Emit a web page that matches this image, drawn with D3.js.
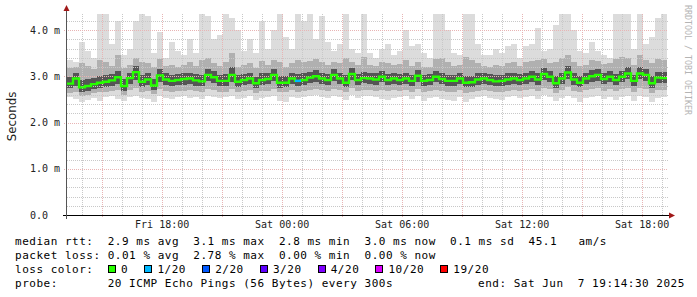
<!DOCTYPE html>
<html>
<head>
<meta charset="utf-8">
<script src="https://cdn.jsdelivr.net/npm/d3@7/dist/d3.min.js"></script>
<style>
  html, body { margin: 0; padding: 0; background: #fff; }
  svg { display: block; }
  text { font-family: "DejaVu Sans Mono", monospace; }
</style>
</head>
<body>
<div id="chart"></div>
<script>
// window of the graph
const startTime = new Date(2025, 5, 6, 13, 14, 30);
const endTime = new Date(2025, 5, 7, 19, 14, 30);
const stepMinutes = 18;

// median rtt (ms), one value per step
const median = [2.84,2.95,2.76,2.79,2.83,2.86,2.88,2.91,2.98,2.79,
  2.96,3.09,2.88,2.93,2.80,3.02,2.93,2.90,2.92,2.94,
  2.95,2.91,2.89,3.03,2.98,2.90,2.90,3.03,2.88,2.92,
  2.95,2.85,2.92,2.94,3.03,2.86,2.86,2.95,2.90,2.92,
  2.97,3.00,2.95,2.92,3.03,2.95,2.86,3.05,2.92,2.96,
  2.95,2.93,2.99,2.92,2.95,2.92,2.95,2.90,3.01,2.90,
  2.92,2.99,2.94,2.90,2.90,2.95,2.86,2.87,2.93,2.95,
  2.92,2.89,2.90,2.93,2.95,2.92,2.95,2.99,2.93,3.05,
  2.99,2.85,2.95,3.08,2.93,2.86,2.95,3.00,3.03,2.94,
  2.99,2.92,2.99,3.06,2.90,3.06,3.03,2.85,2.97,2.96];

// lost pings out of 20, per step
const lost = [0,0,0,0,0,0,0,0,0,0, 0,0,0,0,0,0,0,0,0,0,
  0,0,0,0,0,0,0,0,0,0, 0,0,0,0,0,0,0,0,1,0,
  0,0,0,0,0,0,0,0,0,0, 0,0,0,0,0,0,0,0,0,0,
  0,0,0,0,0,0,0,0,0,0, 0,0,0,0,0,0,0,0,0,0,
  0,0,0,0,0,0,0,0,0,0, 0,0,0,0,0,0,0,0,0,0];

// smoke: slowest / fastest ping
const smokeMax = [3.35,3.30,3.75,3.55,3.40,4.35,4.35,3.70,4.20,3.45,
  3.60,4.20,4.35,4.30,3.50,3.95,3.40,3.75,3.55,3.45,
  3.80,3.50,4.35,4.30,3.80,3.90,4.35,4.25,4.00,3.55,
  3.80,3.50,4.20,3.60,4.00,4.35,3.85,3.60,4.35,4.20,
  4.35,3.80,4.30,3.75,3.55,3.70,4.35,3.60,3.50,4.35,
  3.50,3.40,3.60,3.70,3.45,3.55,4.00,3.65,3.70,3.50,
  3.40,4.35,4.35,4.00,3.50,3.45,4.35,4.35,3.70,3.45,
  3.45,3.60,3.50,3.65,3.70,3.40,3.65,3.70,4.05,3.55,
  3.60,4.10,4.35,4.35,4.00,3.55,3.50,3.75,3.55,3.45,
  3.40,4.35,4.35,4.35,3.60,4.35,3.70,3.85,4.25,4.35];
const smokeMin = [2.55,2.50,2.45,2.48,2.52,2.47,2.55,2.58,2.50,2.46,
  2.55,2.58,2.52,2.50,2.45,2.57,2.53,2.50,2.55,2.58,
  2.52,2.55,2.50,2.57,2.55,2.52,2.56,2.58,2.50,2.54,
  2.57,2.48,2.53,2.55,2.58,2.47,2.45,2.56,2.52,2.55,
  2.58,2.60,2.55,2.53,2.58,2.56,2.48,2.60,2.52,2.57,
  2.58,2.55,2.50,2.48,2.52,2.55,2.58,2.50,2.57,2.46,
  2.52,2.55,2.50,2.48,2.47,2.55,2.45,2.50,2.55,2.57,
  2.53,2.50,2.48,2.55,2.57,2.52,2.55,2.58,2.50,2.60,
  2.55,2.47,2.52,2.58,2.53,2.45,2.52,2.55,2.57,2.50,
  2.55,2.48,2.55,2.58,2.47,2.57,2.55,2.45,2.52,2.55];

// smoke: 2nd and 19th ping band
const highMid = [3.18,3.20,3.28,3.22,3.15,3.35,3.30,3.22,3.45,3.18,
  3.25,3.40,3.30,3.28,3.20,3.38,3.22,3.25,3.20,3.24,
  3.30,3.22,3.35,3.40,3.28,3.22,3.30,3.50,3.20,3.25,
  3.28,3.18,3.32,3.25,3.35,3.30,3.20,3.28,3.35,3.30,
  3.32,3.38,3.30,3.25,3.30,3.28,3.40,3.30,3.25,3.42,
  3.25,3.22,3.30,3.28,3.24,3.26,3.35,3.22,3.30,3.20,
  3.20,3.38,3.40,3.30,3.22,3.25,3.42,3.35,3.28,3.22,
  3.20,3.25,3.22,3.28,3.30,3.22,3.30,3.32,3.35,3.38,
  3.28,3.30,3.40,3.45,3.30,3.22,3.25,3.35,3.32,3.26,
  3.28,3.38,3.42,3.40,3.25,3.45,3.35,3.28,3.38,3.36];
const lowMid = [2.64,2.66,2.58,2.60,2.63,2.65,2.66,2.68,2.70,2.60,
  2.70,2.74,2.66,2.68,2.62,2.72,2.68,2.67,2.68,2.69,
  2.70,2.68,2.66,2.72,2.70,2.67,2.67,2.72,2.66,2.68,
  2.70,2.64,2.68,2.69,2.72,2.65,2.65,2.70,2.67,2.68,
  2.70,2.72,2.70,2.68,2.72,2.70,2.65,2.74,2.68,2.70,
  2.70,2.68,2.71,2.68,2.70,2.68,2.70,2.67,2.72,2.67,
  2.68,2.71,2.69,2.67,2.66,2.70,2.64,2.65,2.68,2.70,
  2.68,2.66,2.67,2.68,2.70,2.68,2.70,2.72,2.68,2.74,
  2.72,2.64,2.70,2.76,2.68,2.65,2.70,2.72,2.74,2.69,
  2.72,2.68,2.72,2.75,2.67,2.75,2.72,2.64,2.70,2.70];

// smoke: inner band round the median
const highCore = [2.98,3.08,2.92,2.93,2.96,3.00,3.02,3.04,3.12,2.95,
  3.08,3.22,3.02,3.06,2.95,3.15,3.06,3.03,3.05,3.07,
  3.08,3.04,3.03,3.16,3.12,3.03,3.04,3.20,3.02,3.05,
  3.08,2.99,3.06,3.07,3.16,3.00,3.00,3.08,3.05,3.06,
  3.10,3.14,3.08,3.05,3.16,3.08,3.02,3.18,3.05,3.10,
  3.08,3.06,3.12,3.05,3.08,3.05,3.08,3.03,3.14,3.03,
  3.05,3.12,3.07,3.03,3.03,3.08,3.00,3.00,3.06,3.08,
  3.05,3.02,3.03,3.06,3.08,3.05,3.08,3.12,3.06,3.18,
  3.12,3.00,3.08,3.22,3.06,3.00,3.08,3.14,3.16,3.07,
  3.12,3.05,3.12,3.20,3.03,3.20,3.16,3.00,3.10,3.09];
const lowCore = [2.74,2.80,2.66,2.68,2.72,2.75,2.77,2.80,2.84,2.68,
  2.84,2.92,2.77,2.81,2.70,2.88,2.82,2.79,2.81,2.82,
  2.83,2.80,2.78,2.90,2.86,2.79,2.79,2.88,2.77,2.81,
  2.84,2.75,2.81,2.83,2.90,2.75,2.76,2.84,2.80,2.81,
  2.86,2.88,2.84,2.81,2.90,2.84,2.76,2.92,2.81,2.85,
  2.84,2.82,2.87,2.81,2.84,2.81,2.84,2.79,2.88,2.79,
  2.81,2.87,2.83,2.79,2.79,2.84,2.76,2.77,2.82,2.84,
  2.81,2.78,2.79,2.82,2.84,2.81,2.84,2.87,2.82,2.92,
  2.87,2.75,2.84,2.95,2.82,2.76,2.84,2.88,2.90,2.83,
  2.87,2.81,2.87,2.93,2.79,2.93,2.90,2.75,2.85,2.85];

// y axis
const yTicks = [0, 1, 2, 3, 4];
const yTickLabels = ['0.0', '1.0 m', '2.0 m', '3.0 m', '4.0 m'];

// legend
const lossLabels = ['0', '1/20', '2/20', '3/20', '4/20', '10/20', '19/20'];
const lossSteps = [0, 1, 2, 3, 4, 10, 19];
const lossColors = ['#26ff00', '#00b8ff', '#0059ff', '#5e00ff', '#7e00ff', '#dd00ff', '#ff0000'];
const legendRows = [
  'median rtt:  2.9 ms avg  3.1 ms max  2.8 ms min  3.0 ms now  0.1 ms sd  45.1   am/s',
  'packet loss: 0.01 % avg  2.78 % max  0.00 % min  0.00 % now',
  'loss color:',
  'probe:       20 ICMP Echo Pings (56 Bytes) every 300s'
];
const endLabel = 'end: Sat Jun  7 19:14:30 2025';

const W = 697, H = 297;
const plot = { left: 67, right: 667, top: 14, bottom: 215 };

const svg = d3.select('#chart').append('svg')
  .attr('width', W).attr('height', H);
svg.append('rect').attr('width', W).attr('height', H).attr('fill', '#fff');

const x = d3.scaleTime().domain([startTime, endTime]).range([plot.left, plot.right]);
const y = d3.scaleLinear().domain([0, 4.346]).range([plot.bottom, plot.top]);

const times = median.map((d, i) => d3.timeMinute.offset(startTime, i * stepMinutes));
const stepW = x(d3.timeMinute.offset(startTime, stepMinutes)) - x(startTime);

svg.append('clipPath').attr('id', 'plotclip').append('rect')
  .attr('x', plot.left).attr('y', plot.top)
  .attr('width', plot.right - plot.left).attr('height', plot.bottom - plot.top);
const g = svg.append('g').attr('clip-path', 'url(#plotclip)');

// smoke layers, outer to inner
const layers = [
  { hi: smokeMax, lo: smokeMin, color: '#dcdcdc' },
  { hi: highMid, lo: lowMid, color: '#b0b0b0' },
  { hi: highCore, lo: lowCore, color: '#555555' }
];
layers.forEach(l => {
  g.append('g').attr('shape-rendering', 'crispEdges')
    .selectAll('rect').data(times).enter().append('rect')
    .attr('x', d => x(d))
    .attr('width', stepW)
    .attr('y', (d, i) => y(l.hi[i]))
    .attr('height', (d, i) => y(l.lo[i]) - y(l.hi[i]))
    .attr('fill', l.color);
});

// grid
const gridG = svg.append('g').attr('shape-rendering', 'crispEdges');
const minorY = d3.range(0.2, 4.35, 0.2).filter(v => Math.abs(v - Math.round(v)) > 0.01);
gridG.selectAll('.hminor').data(minorY).enter().append('line')
  .attr('x1', plot.left).attr('x2', plot.right + 1)
  .attr('y1', d => Math.round(y(d)) + 0.5).attr('y2', d => Math.round(y(d)) + 0.5)
  .attr('stroke', '#c8c8c8').attr('stroke-dasharray', '1,1');
const minorX = x.ticks(d3.timeHour.every(1)).filter(d => d.getHours() % 3 !== 0);
gridG.selectAll('.vminor').data(minorX).enter().append('line')
  .attr('x1', d => Math.round(x(d)) + 0.5).attr('x2', d => Math.round(x(d)) + 0.5)
  .attr('y1', plot.top).attr('y2', plot.bottom)
  .attr('stroke', '#c8c8c8').attr('stroke-dasharray', '1,1');
gridG.selectAll('.hmajor').data(yTicks.slice(1)).enter().append('line')
  .attr('x1', plot.left - 3).attr('x2', plot.right + 1)
  .attr('y1', d => Math.round(y(d)) + 0.5).attr('y2', d => Math.round(y(d)) + 0.5)
  .attr('stroke', '#e8b4b4').attr('stroke-dasharray', '1,1');
const majorX = x.ticks(d3.timeHour.every(3));
gridG.selectAll('.vmajor').data(majorX).enter().append('line')
  .attr('x1', d => Math.round(x(d)) + 0.5).attr('x2', d => Math.round(x(d)) + 0.5)
  .attr('y1', plot.top).attr('y2', plot.bottom + 3)
  .attr('stroke', '#e8b4b4').attr('stroke-dasharray', '1,1');

// median line, coloured by loss (drawn over the grid)
const medG = svg.append('g').attr('clip-path', 'url(#plotclip)');
const medPts = times.map((t, i) => [x(t), y(median[i])]);
medPts.push([plot.right, y(median[median.length - 1])]);
medG.append('path')
  .attr('d', d3.line().curve(d3.curveStepAfter)(medPts))
  .attr('fill', 'none').attr('stroke', lossColors[0]).attr('stroke-width', 2.4);
medG.selectAll('.lossseg').data(times.filter((t, i) => lost[i] > 0)).enter().append('line')
  .attr('x1', d => x(d)).attr('x2', d => x(d) + stepW)
  .attr('y1', d => y(median[times.indexOf(d)])).attr('y2', d => y(median[times.indexOf(d)]))
  .attr('stroke', d => {
    const n = lost[times.indexOf(d)];
    let c = lossColors[0];
    lossSteps.forEach((s, k) => { if (n >= s) c = lossColors[k]; });
    return c;
  })
  .attr('stroke-width', 2.4);

// axes
svg.append('line').attr('x1', plot.left - 4).attr('x2', plot.right + 3)
  .attr('y1', plot.bottom + 0.5).attr('y2', plot.bottom + 0.5)
  .attr('stroke', '#000').attr('shape-rendering', 'crispEdges');
svg.append('line').attr('x1', plot.left - 0.5).attr('x2', plot.left - 0.5)
  .attr('y1', plot.bottom + 4).attr('y2', plot.top - 5)
  .attr('stroke', '#555').attr('shape-rendering', 'crispEdges');
svg.append('path')
  .attr('d', `M${plot.left - 3.5},${plot.top - 3} L${plot.left + 2.5},${plot.top - 3} L${plot.left - 0.5},${plot.top - 9} Z`)
  .attr('fill', '#a01818');
svg.append('path')
  .attr('d', `M${plot.right + 2},${plot.bottom - 2.5} L${plot.right + 2},${plot.bottom + 3.5} L${plot.right + 8},${plot.bottom + 0.5} Z`)
  .attr('fill', '#a01818');

svg.selectAll('.ylab').data(yTicks).enter().append('text')
  .attr('x', 30).attr('y', d => y(d) + 3.6)
  .attr('font-size', 10).attr('fill', '#222')
  .attr('xml:space', 'preserve')
  .text((d, i) => yTickLabels[i]);

const labelTimes = x.ticks(d3.timeHour.every(6));
svg.selectAll('.xlab').data(labelTimes).enter().append('text')
  .attr('x', d => x(d)).attr('y', 227.5)
  .attr('text-anchor', 'middle')
  .attr('font-size', 10).attr('fill', '#222')
  .text(d => d3.timeFormat('%a %H:%M')(d));

svg.append('text')
  .attr('transform', `translate(15.5,${(plot.top + plot.bottom) / 2 + 2}) rotate(-90)`)
  .attr('text-anchor', 'middle')
  .style('font-family', '"DejaVu Sans", sans-serif')
  .attr('font-size', 11.8).attr('fill', '#222')
  .text('Seconds');

svg.append('text')
  .attr('transform', 'translate(685,5) rotate(90)')
  .attr('font-size', 8.3).attr('fill', '#b4b4b4')
  .text('RRDTOOL / TOBI OETIKER');

// legend
const charW = 7.13;
const rowY = [244.5, 258.8, 273.1, 287.4];
svg.selectAll('.leg').data(legendRows).enter().append('text')
  .attr('x', 15).attr('y', (d, i) => rowY[i])
  .attr('font-size', 11).attr('letter-spacing', 0.51)
  .attr('fill', '#000')
  .attr('xml:space', 'preserve')
  .text(d => d);
svg.append('text')
  .attr('x', 478).attr('y', rowY[3])
  .attr('font-size', 11).attr('letter-spacing', 0.51)
  .attr('fill', '#000')
  .attr('xml:space', 'preserve')
  .text(endLabel);

let k = 13.2;
const lossItems = lossLabels.map((lab, i) => {
  const item = { lab, color: lossColors[i], x: 15 + k * charW };
  k += lab.length + 4.1;
  return item;
});
const lossG = svg.selectAll('.lossitem').data(lossItems).enter().append('g');
lossG.append('rect')
  .attr('x', d => Math.round(d.x) - 0.5).attr('y', rowY[2] - 7.6)
  .attr('width', 7).attr('height', 7)
  .attr('fill', d => d.color).attr('stroke', '#000').attr('stroke-width', 1)
  .attr('shape-rendering', 'crispEdges');
lossG.append('text')
  .attr('x', d => d.x + 12).attr('y', rowY[2])
  .attr('font-size', 11).attr('letter-spacing', 0.51)
  .attr('fill', '#000')
  .text(d => d.lab);
</script>
</body>
</html>
